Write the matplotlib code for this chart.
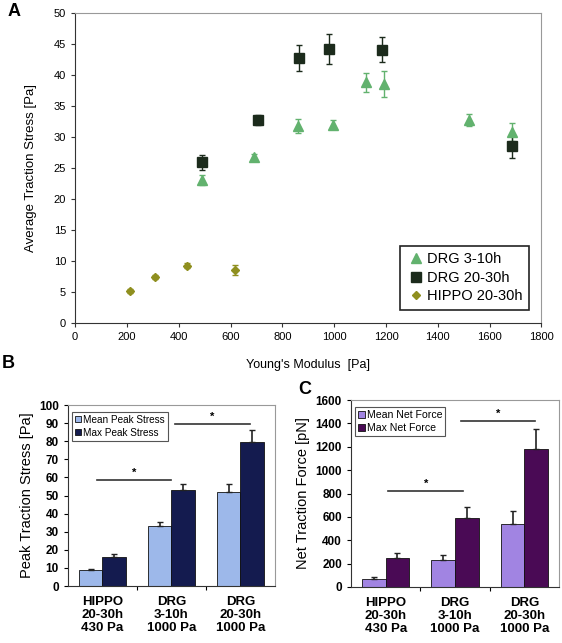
import matplotlib
matplotlib.use('Agg')
import matplotlib.pyplot as plt
import numpy as np
from matplotlib.patches import Patch
from matplotlib.lines import Line2D

plt.rcParams['font.family'] = ['Liberation Sans', 'DejaVu Sans']

# panel A data
drg310_x = [490, 692, 861, 996, 1123, 1193, 1520, 1685]
drg310_y = [23.1, 26.8, 31.8, 32.0, 38.8, 38.5, 32.7, 30.8]
drg310_e = [0.8, 0.5, 1.1, 0.7, 1.5, 2.1, 1.0, 1.4]

drg2030_x = [490, 707, 864, 979, 1186, 1685]
drg2030_y = [25.9, 32.7, 42.7, 44.2, 44.1, 28.5]
drg2030_e = [1.2, 0.8, 2.1, 2.4, 2.0, 1.9]

hippo_x = [212, 309, 431, 619]
hippo_y = [5.1, 7.4, 9.2, 8.5]
hippo_e = [0.3, 0.3, 0.4, 0.8]

# panels B and C data
groups = ['HIPPO\n20-30h\n430 Pa', 'DRG\n3-10h\n1000 Pa', 'DRG\n20-30h\n1000 Pa']
mean_peak = [8.8, 33.0, 51.8]
mean_peak_err = [0.8, 2.5, 4.4]
max_peak = [16.3, 53.0, 79.8]
max_peak_err = [1.5, 3.5, 6.5]

mean_force = [68, 228, 541]
mean_force_err = [17, 48, 110]
max_force = [248, 587, 1180]
max_force_err = [42, 94, 175]

fig = plt.figure(figsize=(5.62, 6.43), dpi=100)

# ---- A ----
axA = fig.add_axes([0.1335, 0.4977, 0.83, 0.4821])
axA.errorbar(drg310_x, drg310_y, yerr=drg310_e, fmt='^', color='#62b26e', ms=6.5,
             elinewidth=1, capsize=2, zorder=3)
axA.errorbar(drg2030_x, drg2030_y, yerr=drg2030_e, fmt='s', color='#1c2b1c', ms=7,
             elinewidth=1, capsize=2, zorder=3)
axA.errorbar(hippo_x, hippo_y, yerr=hippo_e, fmt='D', color='#8f8f1f', ms=4,
             elinewidth=1, capsize=2, zorder=3)
axA.set_xlim(0, 1800)
axA.set_ylim(0, 50)
axA.set_xticks(np.arange(0, 1801, 200))
axA.set_yticks(np.arange(0, 51, 5))
axA.tick_params(direction='out', length=3, labelsize=8, color='#333333')
axA.set_xlabel("Young's Modulus  [Pa]", fontsize=9, labelpad=12)
axA.set_ylabel('Average Traction Stress [Pa]', fontsize=9.5, labelpad=12)
for s in ['top', 'right']:
    axA.spines[s].set_color('#999999')
for s in ['left', 'bottom']:
    axA.spines[s].set_color('#333333')
h = [Line2D([], [], marker=m, color=c, ls='', ms=ms) for m, c, ms in
     [('^', '#62b26e', 6.5), ('s', '#1c2b1c', 7), ('D', '#8f8f1f', 4)]]
legA = axA.legend(h, ['DRG 3-10h', 'DRG 20-30h', 'HIPPO 20-30h'], loc='lower right',
                  bbox_to_anchor=(0.973, 0.043), borderaxespad=0, fontsize=10.5,
                  fancybox=False, edgecolor='#222222', framealpha=1,
                  handletextpad=0.1, handlelength=1.3, borderpad=0.45,
                  labelspacing=0.3)
legA.get_frame().set_linewidth(1.2)
fig.text(0.014, 0.995, 'A', fontsize=13, fontweight='bold', va='top')


def bar_panel(rect, mean, mean_err, mx, mx_err, c1, c2, labels, ylim, ystep,
              ylabel, sig, letter, letter_pos, legfs):
    ax = fig.add_axes(rect)
    x = np.arange(len(groups))
    w = 0.34
    ax.bar(x - w / 2, mean, w, color=c1, edgecolor='#111111', lw=0.6, zorder=2)
    ax.bar(x + w / 2, mx, w, color=c2, edgecolor='#111111', lw=0.6, zorder=2)
    ax.errorbar(x - w / 2, mean, yerr=[np.zeros(3), mean_err], fmt='none',
                ecolor='#222222', elinewidth=1.2, capsize=2, zorder=3)
    ax.errorbar(x + w / 2, mx, yerr=[np.zeros(3), mx_err], fmt='none',
                ecolor='#222222', elinewidth=1.2, capsize=2, zorder=3)
    ax.set_xlim(-0.5, 2.5)
    ax.set_ylim(0, ylim)
    ax.set_yticks(np.arange(0, ylim + 1, ystep))
    ax.set_xticks([0.5, 1.5])
    ax.set_xticklabels([])
    ax.set_xticks(x, minor=True)
    ax.set_xticklabels(groups, minor=True, fontsize=9.5, fontweight='bold',
                       linespacing=1.15)
    ax.tick_params(axis='x', which='minor', length=0, pad=7)
    ax.tick_params(axis='x', which='major', length=3, direction='out')
    ax.tick_params(axis='y', length=3, direction='out', labelsize=8.5)
    for t in ax.get_yticklabels():
        t.set_fontweight('bold')
    ax.set_ylabel(ylabel, fontsize=10.5, labelpad=4)
    for s in ['top', 'right']:
        ax.spines[s].set_color('#999999')
    for s in ['left', 'bottom']:
        ax.spines[s].set_color('#333333')
    for x0, x1, yy in sig:
        ax.plot([x0, x1], [yy, yy], color='#333333', lw=1.2, zorder=3)
        ax.text((x0 + x1) / 2, yy + ylim * 0.012, '*', ha='center', va='bottom',
                fontsize=8, fontweight='bold')
    hl = [Patch(facecolor=c1, edgecolor='#111111', lw=0.6),
          Patch(facecolor=c2, edgecolor='#111111', lw=0.6)]
    lg = ax.legend(hl, labels, loc='upper left', bbox_to_anchor=(0.01, 0.975),
                   fontsize=legfs, fancybox=False, edgecolor='#555555',
                   framealpha=1, handlelength=0.6, handleheight=0.6,
                   handletextpad=0.2, borderpad=0.3, labelspacing=0.3,
                   borderaxespad=0.2)
    lg.get_frame().set_linewidth(0.8)
    fig.text(letter_pos[0], letter_pos[1], letter, fontsize=13,
             fontweight='bold', va='top')
    return ax


bar_panel([0.121, 0.0886, 0.368, 0.2814], mean_peak, mean_peak_err,
          max_peak, max_peak_err, '#9db8ea', '#141b4f',
          ['Mean Peak Stress', 'Max Peak Stress'], 100, 10,
          'Peak Traction Stress [Pa]',
          [(-0.08, 1.0, 58.5), (1.05, 2.14, 89.5)], 'B', (0.004, 0.448), 7.2)

bar_panel([0.6245, 0.0871, 0.3702, 0.2908], mean_force, mean_force_err,
          max_force, max_force_err, '#a184e2', '#4a0a55',
          ['Mean Net Force', 'Max Net Force'], 1600, 200,
          'Net Traction Force [pN]',
          [(0.04, 1.12, 824), (1.08, 2.16, 1423)], 'C', (0.530, 0.408), 7.6)

fig.savefig('out.png', dpi=100)
